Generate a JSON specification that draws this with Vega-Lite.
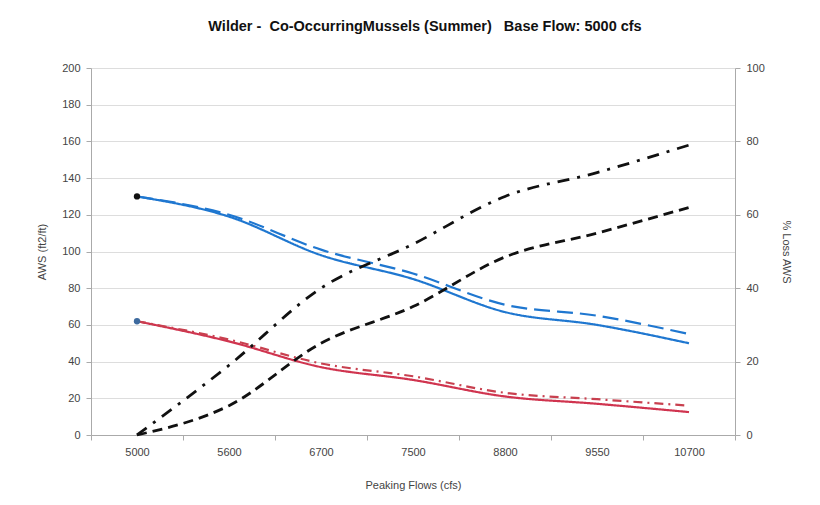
{
  "$schema": "https://vega.github.io/schema/vega-lite/v6.json",
  "width": 644,
  "height": 367,
  "autosize": {"type": "none"},
  "padding": {"left": 91, "top": 68, "right": 85, "bottom": 70},
  "background": "white",
  "title": {
    "text": "Wilder -\u00a0 Co-OccurringMussels (Summer)\u00a0\u00a0 Base Flow: 5000 cfs",
    "font": "Liberation Sans",
    "fontSize": 14.5,
    "fontWeight": "bold",
    "color": "#111",
    "anchor": "middle",
    "dx": 12,
    "offset": 28
  },
  "config": {
    "view": {"stroke": null},
    "axis": {
      "labelFont": "Liberation Sans",
      "titleFont": "Liberation Sans",
      "labelFontSize": 11,
      "titleFontSize": 11,
      "labelColor": "#444",
      "titleColor": "#444",
      "titleFontWeight": "normal",
      "domainColor": "#aaa",
      "tickColor": "#aaa",
      "gridColor": "#ddd"
    }
  },
  "datasets": {
    "aws": [
      {"flow": "5000", "series": "Blue Solid", "value": 130},
      {"flow": "5600", "series": "Blue Solid", "value": 119},
      {"flow": "6700", "series": "Blue Solid", "value": 98},
      {"flow": "7500", "series": "Blue Solid", "value": 85},
      {"flow": "8800", "series": "Blue Solid", "value": 67},
      {"flow": "9550", "series": "Blue Solid", "value": 60},
      {"flow": "10700", "series": "Blue Solid", "value": 50},
      {"flow": "5000", "series": "Blue Dashed", "value": 130},
      {"flow": "5600", "series": "Blue Dashed", "value": 120},
      {"flow": "6700", "series": "Blue Dashed", "value": 101},
      {"flow": "7500", "series": "Blue Dashed", "value": 88},
      {"flow": "8800", "series": "Blue Dashed", "value": 71},
      {"flow": "9550", "series": "Blue Dashed", "value": 65},
      {"flow": "10700", "series": "Blue Dashed", "value": 55},
      {"flow": "5000", "series": "Red Solid", "value": 62},
      {"flow": "5600", "series": "Red Solid", "value": 51},
      {"flow": "6700", "series": "Red Solid", "value": 37},
      {"flow": "7500", "series": "Red Solid", "value": 30},
      {"flow": "8800", "series": "Red Solid", "value": 21},
      {"flow": "9550", "series": "Red Solid", "value": 17},
      {"flow": "10700", "series": "Red Solid", "value": 12.5},
      {"flow": "5000", "series": "Red Dashed", "value": 62},
      {"flow": "5600", "series": "Red Dashed", "value": 52},
      {"flow": "6700", "series": "Red Dashed", "value": 39},
      {"flow": "7500", "series": "Red Dashed", "value": 32},
      {"flow": "8800", "series": "Red Dashed", "value": 23},
      {"flow": "9550", "series": "Red Dashed", "value": 19.5},
      {"flow": "10700", "series": "Red Dashed", "value": 16}
    ],
    "loss": [
      {"flow": "5000", "series": "Black DashDot", "value": 0},
      {"flow": "5600", "series": "Black DashDot", "value": 19},
      {"flow": "6700", "series": "Black DashDot", "value": 40},
      {"flow": "7500", "series": "Black DashDot", "value": 52},
      {"flow": "8800", "series": "Black DashDot", "value": 65},
      {"flow": "9550", "series": "Black DashDot", "value": 71.5},
      {"flow": "10700", "series": "Black DashDot", "value": 79},
      {"flow": "5000", "series": "Black Dashed", "value": 0},
      {"flow": "5600", "series": "Black Dashed", "value": 8},
      {"flow": "6700", "series": "Black Dashed", "value": 25},
      {"flow": "7500", "series": "Black Dashed", "value": 35},
      {"flow": "8800", "series": "Black Dashed", "value": 48.5},
      {"flow": "9550", "series": "Black Dashed", "value": 55},
      {"flow": "10700", "series": "Black Dashed", "value": 62}
    ]
  },
  "encoding": {
    "x": {
      "field": "flow",
      "type": "ordinal",
      "sort": ["5000", "5600", "6700", "7500", "8800", "9550", "10700"],
      "scale": {"paddingInner": 0, "paddingOuter": 0},
      "axis": {
        "title": "Peaking Flows (cfs)",
        "labelAngle": 0,
        "tickBand": "extent",
        "labelPadding": 6,
        "titlePadding": 22
      }
    }
  },
  "layer": [
    {
      "data": {"name": "aws"},
      "encoding": {
        "y": {
          "field": "value",
          "type": "quantitative",
          "scale": {"domain": [0, 200]},
          "axis": {
            "title": "AWS (ft2/ft)",
            "values": [0, 20, 40, 60, 80, 100, 120, 140, 160, 180, 200],
            "titlePadding": 14,
            "labelPadding": 6
          }
        }
      },
      "layer": [
        {
          "mark": {"type": "line", "interpolate": "monotone", "strokeWidth": 2.2},
          "encoding": {
            "stroke": {
              "field": "series",
              "type": "nominal",
              "scale": {
                "domain": ["Blue Solid", "Blue Dashed", "Red Solid", "Red Dashed", "Black DashDot", "Black Dashed"],
                "range": ["#1f77d0", "#1f77d0", "#d0344f", "#c8404f", "#111111", "#111111"]
              },
              "legend": null
            },
            "strokeDash": {
              "field": "series",
              "type": "nominal",
              "scale": {
                "domain": ["Blue Solid", "Blue Dashed", "Red Solid", "Red Dashed", "Black DashDot", "Black Dashed"],
                "range": [[1, 0], [16, 7], [1, 0], [9, 5, 2, 5], [12, 8, 3, 8], [10, 6]]
              },
              "legend": null
            }
          }
        },
        {
          "transform": [
            {"filter": "datum.flow == '5000' && (datum.series == 'Blue Solid' || datum.series == 'Red Solid')"}
          ],
          "mark": {"type": "point", "filled": true, "size": 40, "opacity": 1},
          "encoding": {
            "fill": {
              "field": "series",
              "type": "nominal",
              "scale": {"domain": ["Blue Solid", "Red Solid"], "range": ["#111111", "#3d6a9e"]},
              "legend": null
            }
          }
        }
      ]
    },
    {
      "data": {"name": "loss"},
      "mark": {"type": "line", "interpolate": "monotone", "strokeWidth": 2.8},
      "encoding": {
        "y": {
          "field": "value",
          "type": "quantitative",
          "scale": {"domain": [0, 100]},
          "axis": {
            "orient": "right",
            "title": "% Loss AWS",
            "values": [0, 20, 40, 60, 80, 100],
            "grid": false,
            "titlePadding": 16,
            "labelPadding": 6
          }
        },
        "stroke": {
          "field": "series",
          "type": "nominal",
          "scale": {
            "domain": ["Blue Solid", "Blue Dashed", "Red Solid", "Red Dashed", "Black DashDot", "Black Dashed"],
            "range": ["#1f77d0", "#1f77d0", "#d0344f", "#c8404f", "#111111", "#111111"]
          },
          "legend": null
        },
        "strokeDash": {
          "field": "series",
          "type": "nominal",
          "scale": {
            "domain": ["Blue Solid", "Blue Dashed", "Red Solid", "Red Dashed", "Black DashDot", "Black Dashed"],
            "range": [[1, 0], [16, 7], [1, 0], [9, 5, 2, 5], [12, 8, 3, 8], [10, 6]]
          },
          "legend": null
        }
      }
    }
  ],
  "resolve": {"scale": {"y": "independent"}}
}
